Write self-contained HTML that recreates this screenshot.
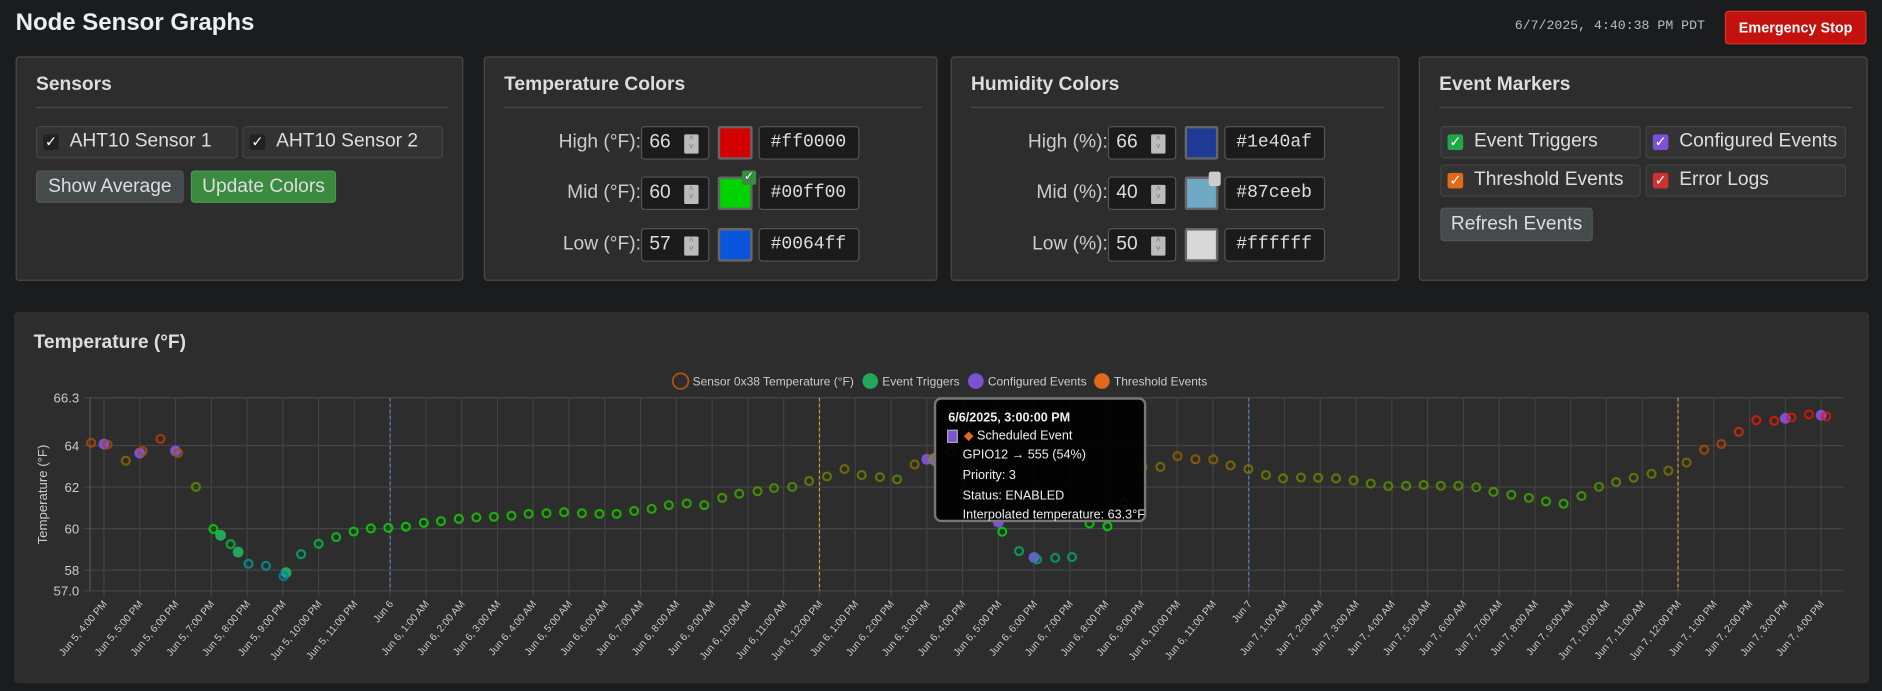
<!DOCTYPE html>
<html><head><meta charset="utf-8">
<style>
html,body{margin:0;padding:0;background:#1b1c1e;overflow:hidden;width:1882px;height:691px}
#root{position:absolute;left:0;top:0;width:1568px;height:576px;transform:scale(1.2003);transform-origin:0 0;font-family:"Liberation Sans",sans-serif;color:#ddd}
.abs{position:absolute;box-sizing:border-box}
.panel{background:#2d2d2d;border:1px solid #4d4a44;border-radius:3px}
.ph{position:absolute;left:16px;top:14px;font-size:16px;font-weight:bold;color:#ddd}
.hr{position:absolute;left:16px;right:12px;top:41px;height:1px;background:#4a4a4a}
.chk{background:#333;border:1px solid #444;border-radius:3px;font-size:16px;color:#ddd}
.chk span.b{position:absolute;left:5px;top:6px;width:13px;height:13px;border-radius:2px;font-size:12px;line-height:13px;text-align:center;color:#fff}
.chk span.t{position:absolute;left:27px;top:3px}
.btn{border-radius:3px;font-size:16px;color:#ddd;text-align:center;line-height:26px}
.lbl{font-size:16px;color:#ccc;text-align:right;line-height:28px}
.num{background:#1b1b1b;border:1px solid #555;border-radius:3px;font-size:16px;color:#ddd;line-height:26px;padding-left:6px}
.num i{position:absolute;right:8px;top:6px;width:12px;height:16px;background:#bbb;border-radius:1px;font-style:normal;font-size:7px;line-height:7px;color:#777;text-align:center}
.sw{border:2px solid #666;border-radius:2px}
.hex{background:#1b1b1b;border:1px solid #555;border-radius:3px;font-family:"Liberation Mono",monospace;font-size:15px;color:#ddd;line-height:26px;padding-left:9px}
.tt div{white-space:nowrap}
</style></head><body>
<div id="root">
<div class="abs" style="left:13px;top:8px;font-size:20px;font-weight:bold;color:#eee">Node Sensor Graphs</div>
<div class="abs" style="left:1262px;top:16px;font-family:'Liberation Mono',monospace;font-size:11px;color:#bbb">6/7/2025, 4:40:38 PM PDT</div>
<div class="abs btn" style="left:1437px;top:9px;width:118px;height:28px;background:#c3120e;border:1px solid #e03030;color:#fff;font-size:12px;font-weight:bold;line-height:26px">Emergency Stop</div>

<div class="abs panel" style="left:13px;top:47px;width:373px;height:187px">
<div class="ph">Sensors</div><div class="hr"></div>
<div class="abs chk" style="left:16px;top:57px;width:168px;height:27px"><span class="b" style="background:#222">✓</span><span class="t">AHT10 Sensor 1</span></div>
<div class="abs chk" style="left:188px;top:57px;width:167px;height:27px"><span class="b" style="background:#222">✓</span><span class="t">AHT10 Sensor 2</span></div>
<div class="abs btn" style="left:16px;top:94px;width:123px;height:27px;background:#454b4b;border:1px solid #555">Show Average</div>
<div class="abs btn" style="left:145px;top:94px;width:121px;height:27px;background:#3a8a3f;border:1px solid #4a9a4f">Update Colors</div>
</div>

<div class="abs panel" style="left:403px;top:47px;width:378px;height:187px">
<div class="ph">Temperature Colors</div><div class="hr"></div>
<div class="abs lbl" style="left:20px;top:57px;width:110px">High (°F):</div>
<div class="abs num" style="left:130px;top:57px;width:57px;height:28px">66<i>˄<br>˅</i></div>
<div class="abs sw" style="left:194px;top:57px;width:29px;height:28px;background:#d40000"></div>
<div class="abs hex" style="left:228px;top:57px;width:84px;height:28px">#ff0000</div>
<div class="abs lbl" style="left:20px;top:99px;width:110px">Mid (°F):</div>
<div class="abs num" style="left:130px;top:99px;width:57px;height:28px">60<i>˄<br>˅</i></div>
<div class="abs sw" style="left:194px;top:99px;width:29px;height:28px;background:#00d400"></div>
<div class="abs" style="left:214px;top:94px;width:12px;height:12px;background:#3a8a3f;border-radius:2px;color:#fff;font-size:10px;line-height:12px;text-align:center">✓</div>
<div class="abs hex" style="left:228px;top:99px;width:84px;height:28px">#00ff00</div>
<div class="abs lbl" style="left:20px;top:142px;width:110px">Low (°F):</div>
<div class="abs num" style="left:130px;top:142px;width:57px;height:28px">57<i>˄<br>˅</i></div>
<div class="abs sw" style="left:194px;top:142px;width:29px;height:28px;background:#0a55dd"></div>
<div class="abs hex" style="left:228px;top:142px;width:84px;height:28px">#0064ff</div>
</div>

<div class="abs panel" style="left:792px;top:47px;width:374px;height:187px">
<div class="ph">Humidity Colors</div><div class="hr"></div>
<div class="abs lbl" style="left:20px;top:57px;width:110px">High (%):</div>
<div class="abs num" style="left:130px;top:57px;width:57px;height:28px">66<i>˄<br>˅</i></div>
<div class="abs sw" style="left:194px;top:57px;width:28px;height:28px;background:#1e3a96"></div>
<div class="abs hex" style="left:227px;top:57px;width:84px;height:28px">#1e40af</div>
<div class="abs lbl" style="left:20px;top:99px;width:110px">Mid (%):</div>
<div class="abs num" style="left:130px;top:99px;width:57px;height:28px">40<i>˄<br>˅</i></div>
<div class="abs sw" style="left:194px;top:99px;width:28px;height:28px;background:#6fa9c5"></div>
<div class="abs" style="left:214px;top:95px;width:10px;height:12px;background:#ccc;border-radius:2px"></div>
<div class="abs hex" style="left:227px;top:99px;width:84px;height:28px">#87ceeb</div>
<div class="abs lbl" style="left:20px;top:142px;width:110px">Low (%):</div>
<div class="abs num" style="left:130px;top:142px;width:57px;height:28px">50<i>˄<br>˅</i></div>
<div class="abs sw" style="left:194px;top:142px;width:28px;height:28px;background:#d8d8d8"></div>
<div class="abs hex" style="left:227px;top:142px;width:84px;height:28px">#ffffff</div>
</div>

<div class="abs panel" style="left:1182px;top:47px;width:374px;height:187px">
<div class="ph">Event Markers</div><div class="hr"></div>
<div class="abs chk" style="left:17px;top:57px;width:167px;height:27px"><span class="b" style="background:#1ea84a">✓</span><span class="t">Event Triggers</span></div>
<div class="abs chk" style="left:188px;top:57px;width:167px;height:27px"><span class="b" style="background:#7b52d6">✓</span><span class="t">Configured Events</span></div>
<div class="abs chk" style="left:17px;top:89px;width:167px;height:27px"><span class="b" style="background:#e06a1a">✓</span><span class="t">Threshold Events</span></div>
<div class="abs chk" style="left:188px;top:89px;width:167px;height:27px"><span class="b" style="background:#d03030">✓</span><span class="t">Error Logs</span></div>
<div class="abs btn" style="left:17px;top:125px;width:127px;height:28px;background:#454b4b;border:1px solid #555">Refresh Events</div>
</div>

<div class="abs panel" style="left:12px;top:260px;width:1545px;height:309px;border-color:#333">
<div class="abs" style="left:15px;top:16px;font-size:16px;font-weight:bold;color:#ddd">Temperature (°F)</div>
</div>
<svg id="chart" class="abs" style="left:0;top:0" width="1568" height="576" font-family="Liberation Sans, sans-serif"></svg>

<div class="abs tt" style="left:778px;top:331px;width:177px;height:104px;background:rgba(0,0,0,0.92);border:2px solid #777;border-radius:6px;font-size:10.5px;color:#eee">
<div class="abs" style="left:10px;top:9px;font-weight:bold">6/6/2025, 3:00:00 PM</div>
<div class="abs" style="left:9px;top:25px;width:9px;height:11px;background:#7b52d6;border:1px solid #aaa"></div>
<div class="abs" style="left:23px;top:24px"><span style="color:#e06a1a">◆</span> Scheduled Event</div>
<div class="abs" style="left:22px;top:40px">GPIO12 → 555 (54%)</div>
<div class="abs" style="left:22px;top:57px">Priority: 3</div>
<div class="abs" style="left:22px;top:74px">Status: ENABLED</div>
<div class="abs" style="left:22px;top:90px">Interpolated temperature: 63.3°F</div>
</div>
</div>

<script>
const times=[-0.36,0.10,0.61,1.08,1.58,2.07,2.57,3.06,3.54,4.04,4.53,5.02,5.51,6.00,6.49,6.98,7.46,7.95,8.44,8.94,9.42,9.92,10.41,10.90,11.39,11.87,12.37,12.86,13.36,13.85,14.33,14.82,15.31,15.79,16.29,16.78,17.28,17.76,18.27,18.73,19.24,19.71,20.21,20.70,21.18,21.69,22.17,22.66,23.16,23.66,24.14,24.63,25.11,25.58,26.08,26.59,27.06,27.55,28.05,28.52,29.03,29.53,30.01,30.51,31.01,31.49,31.99,32.48,32.96,33.46,33.94,34.44,34.93,35.41,35.90,36.40,36.89,37.37,37.86,38.36,38.84,39.34,39.83,40.31,40.80,41.30,41.79,42.27,42.76,43.26,43.73,44.24,44.73,45.21,45.70,46.19,46.69,47.17,47.66,48.14];
const temps=[64.13,64.05,63.27,63.73,64.32,63.64,62.01,59.98,59.25,58.31,58.21,57.71,58.77,59.27,59.59,59.86,60.01,60.04,60.09,60.28,60.36,60.47,60.54,60.57,60.62,60.71,60.74,60.79,60.74,60.71,60.71,60.85,60.95,61.13,61.21,61.13,61.48,61.68,61.80,61.95,62.01,62.29,62.51,62.87,62.58,62.48,62.37,63.09,63.38,63.68,63.14,62.58,59.85,58.92,58.52,58.59,58.63,60.25,60.11,61.21,62.97,62.97,63.49,63.34,63.33,63.04,62.87,62.58,62.42,62.46,62.45,62.42,62.32,62.17,62.05,62.06,62.10,62.06,62.06,61.99,61.77,61.63,61.48,61.31,61.20,61.57,62.01,62.24,62.45,62.64,62.79,63.18,63.80,64.07,64.66,65.22,65.19,65.35,65.50,65.40];
const configTimes=[0,1,2,23,25,26,47,48];
const configTemps=[64.07,63.64,63.74,63.34,60.31,58.61,65.31,65.46];
const triggerTimes=[3.26,3.75,5.09];
const triggerTemps=[59.68,58.87,57.88];
const yTicks=[66.3,64,62,60,58,57.0];
const yTickLabels=["66.3","64","62","60","58","57.0"];
const dayLines=[8,32];
const noonLines=[20,44];

const NS='http://www.w3.org/2000/svg';
const svg=document.getElementById('chart');
const X0=75,X1=1536,T0=-0.39,T1=48.63,Y0=492.3,Y1=331.4,V0=57.0,V1=66.3;
function xs(t){return X0+(t-T0)/(T1-T0)*(X1-X0);}
function ys(v){return Y0-(v-V0)/(V1-V0)*(Y0-Y1);}
function mk(tag,a){const e=document.createElementNS(NS,tag);for(const k in a)e.setAttribute(k,a[k]);svg.appendChild(e);return e;}
function lerp(a,b,f){return [0,1,2].map(i=>Math.round(a[i]+(b[i]-a[i])*f));}
function col(v){const lo=[0,100,255],mid=[0,220,0],hi=[255,0,0];let c;
 if(v<=57)c=lo;else if(v<60)c=lerp(lo,mid,(v-57)/3);else if(v<66)c=lerp(mid,hi,(v-60)/6);else c=hi;
 return 'rgb('+c.join(',')+')';}
function hourLabel(h){const d=new Date(2025,5,5,16+h);const day=d.getDate();const hr=d.getHours();
 if(hr===0)return 'Jun '+day;const h12=hr%12===0?12:hr%12;return 'Jun '+day+', '+h12+':00 '+(hr<12?'AM':'PM');}

yTicks.forEach((v,i)=>{
 const g=mk('line',{x1:X0-5,x2:X1,y1:ys(v),y2:ys(v),stroke:'#454545','stroke-width':1});
 
 
 const t=mk('text',{x:X0-9,y:ys(v)+4,'text-anchor':'end','font-size':11,fill:'#ccc'});
 t.textContent=yTickLabels[i];
 
 
});
for(let h=0;h<=48;h++){
 const x=xs(h);
 const g=mk('line',{x1:x,x2:x,y1:Y1,y2:Y0+5,stroke:'#424242','stroke-width':1});
 
 
 const t=mk('text',{x:0,y:0,'text-anchor':'end','font-size':8.5,fill:'#ccc',transform:'translate('+(x+3)+','+(Y0+11)+') rotate(-50)'});
 t.textContent=hourLabel(h);
 
 
}
const ax=mk('line',{x1:X0,x2:X0,y1:Y1,y2:Y0,stroke:'#555'});


dayLines.forEach(h=>{const l=mk('line',{x1:xs(h),x2:xs(h),y1:Y1,y2:Y0,stroke:'#5a7fb8','stroke-width':1,'stroke-dasharray':'3,2'});
 
 });
noonLines.forEach(h=>{const l=mk('line',{x1:xs(h),x2:xs(h),y1:Y1,y2:Y0,stroke:'#c9a030','stroke-width':1,'stroke-dasharray':'3,2'});
 
 });
const yt=mk('text',{x:0,y:0,'text-anchor':'middle','font-size':11,fill:'#ccc',transform:'translate(39,412) rotate(-90)'});
yt.textContent='Temperature (°F)';



configTimes.forEach((t,i)=>{const c=mk('circle',{cx:xs(t),cy:ys(configTemps[i]),r:4.5,fill:'#7b52d6'});
 
 });
triggerTimes.forEach((t,i)=>{const c=mk('circle',{cx:xs(t),cy:ys(triggerTemps[i]),r:4.5,fill:'#22a85a'});
 
 });
times.forEach((t,i)=>{const c=mk('circle',{cx:xs(t),cy:ys(temps[i]),r:3.3,fill:'none',stroke:col(temps[i]),'stroke-width':1.8,'stroke-opacity':0.85});
 
 });
const car=mk('path',{d:'M778,377 L772,383 L778,389 Z',fill:'#777'});



const leg=[['Sensor 0x38 Temperature (°F)',567,'none','#b05010'],['Event Triggers',725,'#22a85a','none'],['Configured Events',813,'#7b52d6','none'],['Threshold Events',918,'#e06a1a','none']];
leg.forEach(l=>{const c=mk('circle',{cx:l[1],cy:317.5,r:6.5,fill:l[2],stroke:l[3],'stroke-width':1.5});
 
 
 const t=mk('text',{x:l[1]+10,y:321,'font-size':10,fill:'#ccc'});t.textContent=l[0];
 
 });
</script>
</body></html>
